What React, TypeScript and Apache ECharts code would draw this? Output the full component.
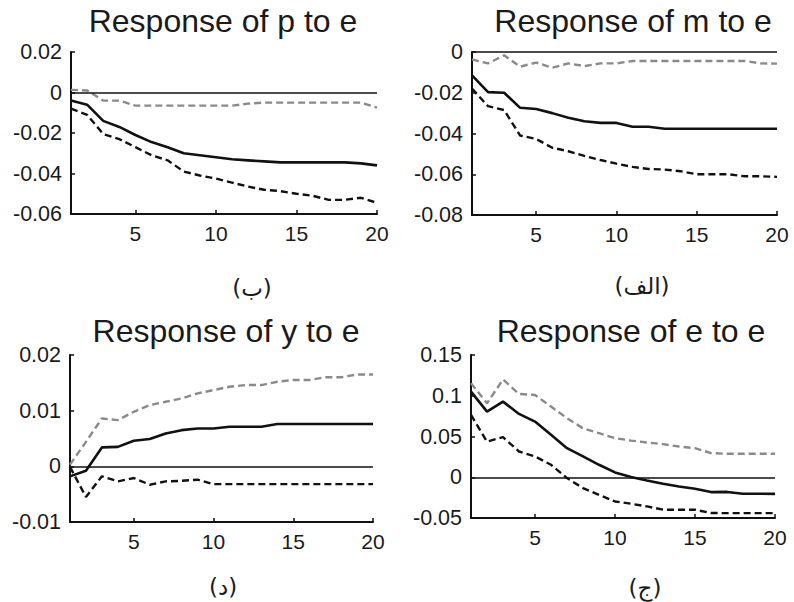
import React, { useEffect, useRef } from "react";
import * as echarts from "echarts";

const periods = [1, 2, 3, 4, 5, 6, 7, 8, 9, 10, 11, 12, 13, 14, 15, 16, 17, 18, 19, 20];
const xTicks = [5, 10, 15, 20];

// Response of p to e
const pMid = [-0.004, -0.006, -0.014, -0.017, -0.021, -0.0245, -0.027, -0.030, -0.031, -0.032, -0.033, -0.0335, -0.034, -0.0345, -0.0345, -0.0345, -0.0345, -0.0345, -0.035, -0.036];
const pLow = [-0.008, -0.011, -0.0205, -0.023, -0.027, -0.031, -0.0335, -0.039, -0.041, -0.0425, -0.0445, -0.0465, -0.048, -0.0487, -0.050, -0.051, -0.053, -0.053, -0.052, -0.0545];
const pUp = [0.0013, 0.001, -0.004, -0.004, -0.0065, -0.0065, -0.0065, -0.0065, -0.0065, -0.0065, -0.0065, -0.0055, -0.005, -0.005, -0.005, -0.005, -0.005, -0.005, -0.005, -0.0075];

// Response of m to e
const mMid = [-0.0115, -0.0197, -0.020, -0.0274, -0.028, -0.030, -0.0323, -0.034, -0.0348, -0.0348, -0.0367, -0.0367, -0.0377, -0.0377, -0.0377, -0.0377, -0.0377, -0.0377, -0.0377, -0.0377];
const mLow = [-0.018, -0.0266, -0.0285, -0.041, -0.0427, -0.047, -0.0487, -0.051, -0.053, -0.0548, -0.0564, -0.0574, -0.0577, -0.0585, -0.060, -0.060, -0.060, -0.061, -0.061, -0.0613];
const mUp = [-0.0036, -0.0056, -0.0016, -0.0072, -0.0052, -0.0077, -0.0056, -0.0069, -0.0056, -0.0056, -0.0044, -0.0044, -0.0044, -0.0044, -0.0044, -0.0044, -0.0044, -0.0044, -0.0056, -0.0057];

// Response of y to e
const yMid = [-0.0018, -0.0008, 0.0034, 0.0035, 0.0046, 0.0049, 0.0059, 0.0065, 0.0068, 0.0068, 0.0071, 0.0071, 0.0071, 0.0076, 0.0076, 0.0076, 0.0076, 0.0076, 0.0076, 0.0076];
const yLow = [-0.0001, -0.0055, -0.0018, -0.0027, -0.0021, -0.0033, -0.0027, -0.0026, -0.0024, -0.0032, -0.0032, -0.0032, -0.0032, -0.0032, -0.0032, -0.0032, -0.0032, -0.0032, -0.0032, -0.0032];
const yUp = [0.0003, 0.0044, 0.0086, 0.0083, 0.0098, 0.011, 0.0116, 0.0122, 0.0131, 0.0137, 0.0143, 0.0146, 0.0146, 0.0152, 0.0155, 0.0155, 0.016, 0.016, 0.0165, 0.0165];

// Response of e to e
const eMid = [0.105, 0.0806, 0.0928, 0.0777, 0.0683, 0.052, 0.0357, 0.0255, 0.0153, 0.0059, 0.0003, -0.0039, -0.008, -0.0113, -0.0141, -0.0182, -0.018, -0.0202, -0.0202, -0.0204];
const eLow = [0.0765, 0.0438, 0.0492, 0.0316, 0.0255, 0.0153, -0.001, -0.0133, -0.0215, -0.0297, -0.0325, -0.0358, -0.0398, -0.0398, -0.0398, -0.0439, -0.044, -0.044, -0.044, -0.044];
const eUp = [0.1153, 0.0908, 0.12, 0.1022, 0.101, 0.0867, 0.0725, 0.06, 0.0541, 0.048, 0.045, 0.0426, 0.0406, 0.0377, 0.0357, 0.0296, 0.0288, 0.0288, 0.0288, 0.0288];

const titles = ["Response of p to e", "Response of m to e", "Response of y to e", "Response of e to e"];
const captions = ["(ب)", "(الف)", "(د)", "(ج)"];

const FONT = "'Liberation Sans', Arial, sans-serif";

export default function App() {
  const ref = useRef<HTMLDivElement>(null);
  useEffect(() => {
    if (!ref.current) return;
    const chart = echarts.init(ref.current, null, { renderer: "svg" });

    const grids = [
      { left: 71, top: 52, width: 306, height: 162 },
      { left: 472, top: 52, width: 305, height: 163 },
      { left: 70, top: 355, width: 303, height: 167 },
      { left: 471, top: 355, width: 304, height: 163 },
    ];
    const yRanges = [
      { min: -0.06, max: 0.02, interval: 0.02 },
      { min: -0.08, max: 0, interval: 0.02 },
      { min: -0.01, max: 0.02, interval: 0.01 },
      { min: -0.05, max: 0.15, interval: 0.05 },
    ];
    const sets = [
      [pMid, pLow, pUp],
      [mMid, mLow, mUp],
      [yMid, yLow, yUp],
      [eMid, eLow, eUp],
    ];
    const titlePos = [
      { x: 218, y: 0 },
      { x: 628, y: 0 },
      { x: 221, y: 310 },
      { x: 626, y: 310 },
    ];
    const capPos = [
      { x: 252, y: 288 },
      { x: 642, y: 286 },
      { x: 223, y: 587 },
      { x: 645, y: 588 },
    ];

    const fmt = (v: number) => (Math.abs(v) < 1e-12 ? "0" : String(parseFloat(v.toFixed(3))));
    const toPts = (arr: number[]) => periods.map((x, i) => [x, arr[i]]);

    const series: any[] = [];
    sets.forEach((s, g) => {
      series.push({
        type: "line",
        xAxisIndex: g,
        yAxisIndex: g,
        data: toPts(s[0]),
        showSymbol: false,
        lineStyle: { color: "#111", width: 2.6 },
        z: 5,
        markLine: {
          silent: true,
          symbol: "none",
          label: { show: false },
          lineStyle: { color: "#111", width: 1.5, type: "solid" },
          data: [{ yAxis: 0 }],
        },
      });
      series.push({
        type: "line",
        xAxisIndex: g,
        yAxisIndex: g,
        data: toPts(s[1]),
        showSymbol: false,
        lineStyle: { color: "#111", width: 2.4, type: [7, 4] },
        z: 4,
      });
      series.push({
        type: "line",
        xAxisIndex: g,
        yAxisIndex: g,
        data: toPts(s[2]),
        showSymbol: false,
        lineStyle: { color: "#8a8a8a", width: 2.4, type: [7, 4] },
        z: 3,
      });
    });

    const option: any = {
      animation: false,
      backgroundColor: "#ffffff",
      title: titles.map((t, i) => ({
        text: t,
        left: titlePos[i].x,
        top: titlePos[i].y,
        textAlign: "center",
        textStyle: { fontFamily: FONT, fontSize: 32, fontWeight: "normal", color: "#1a1a1a" },
      })),
      grid: grids,
      xAxis: grids.map((_, i) => ({
        type: "value",
        gridIndex: i,
        min: 1,
        max: 20,
        splitLine: { show: false },
        axisLine: { show: true, onZero: false, lineStyle: { color: "#111", width: 2 } },
        axisTick: { show: true, inside: true, length: 4, customValues: xTicks, lineStyle: { color: "#111", width: 1.5 } },
        axisLabel: { customValues: xTicks, fontFamily: FONT, fontSize: 21, color: "#1a1a1a", margin: 9 },
      })),
      yAxis: grids.map((_, i) => ({
        type: "value",
        gridIndex: i,
        min: yRanges[i].min,
        max: yRanges[i].max,
        interval: yRanges[i].interval,
        splitLine: { show: false },
        axisLine: { show: true, onZero: false, lineStyle: { color: "#111", width: 2 } },
        axisTick: { show: true, inside: true, length: 4, lineStyle: { color: "#111", width: 1.5 } },
        axisLabel: { fontFamily: FONT, fontSize: 21.5, color: "#1a1a1a", margin: 9, formatter: fmt },
      })),
      graphic: captions.map((c, i) => ({
        type: "text",
        x: capPos[i].x,
        y: capPos[i].y,
        style: {
          text: c,
          fontFamily: "'DejaVu Sans', 'Noto Sans', sans-serif",
          fontSize: 23,
          fill: "#1a1a1a",
          textAlign: "center",
          textVerticalAlign: "middle",
        },
      })),
      series,
    };
    chart.setOption(option);
    return () => chart.dispose();
  }, []);

  return (
    <div
      ref={ref}
      style={{ position: "absolute", left: 0, top: 0, width: 794, height: 602, background: "#fff" }}
    />
  );
}
